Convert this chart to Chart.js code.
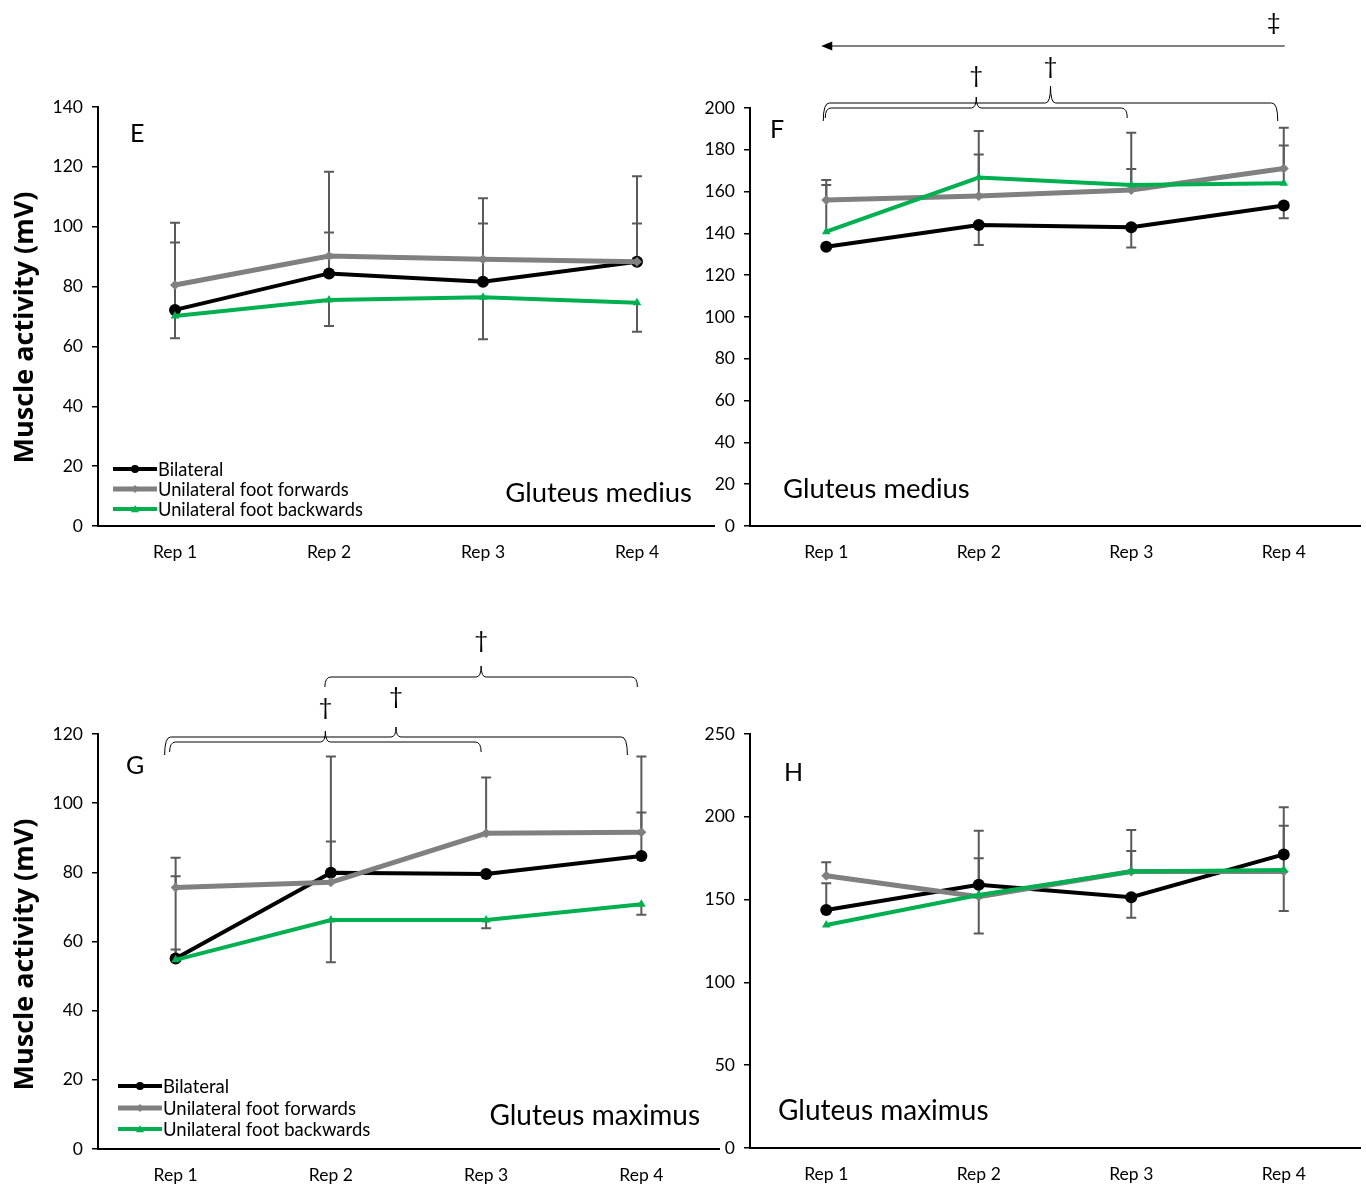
<!DOCTYPE html>
<html>
<head>
<meta charset="utf-8">
<script src="https://cdn.jsdelivr.net/npm/chart.js@4.4.1/dist/chart.umd.min.js"></script>
<style>
    html, body { margin: 0; padding: 0; background: #fff; }
    #wrap { position: relative; width: 1366px; height: 1184px; overflow: hidden; }
    #wrap canvas { position: absolute; left: 0; top: 0; }
</style>
</head>
<body>
<div id="wrap">
    <canvas id="chartE" width="1366" height="1184"></canvas>
    <canvas id="chartF" width="1366" height="1184"></canvas>
    <canvas id="chartG" width="1366" height="1184"></canvas>
    <canvas id="chartH" width="1366" height="1184"></canvas>
</div>
<script>
// ==================== DATOS ====================
const repLabels = ['Rep 1', 'Rep 2', 'Rep 3', 'Rep 4'];
const seriesNames = ['Bilateral', 'Unilateral foot forwards', 'Unilateral foot backwards'];
const yTitle = 'Muscle activity (mV)';

// E - Gluteus medius
const eBilateral = [72.2, 84.4, 81.6, 88.3];
const eForwards  = [80.5, 90.2, 89.1, 88.3];
const eBackwards = [70.2, 75.5, 76.4, 74.6];
const eBilateralUp   = [22.5, 13.7, 19.5, 12.8];
const eBilateralDown = [0, 0, 0, 0];
const eForwardsUp    = [20.8, 28.2, 20.4, 28.6];
const eForwardsDown  = [0, 0, 0, 0];
const eBackwardsUp   = [0, 0, 0, 0];
const eBackwardsDown = [7.5, 8.7, 14.0, 9.7];

// F - Gluteus medius
const fBilateral = [133.6, 144.0, 142.9, 153.3];
const fForwards  = [156.0, 157.9, 160.8, 171.1];
const fBackwards = [140.8, 166.7, 163.2, 164.0];
const fBilateralUp   = [0, 0, 0, 0];
const fBilateralDown = [0, 9.6, 9.6, 6.1];
const fForwardsUp    = [9.5, 31.1, 27.4, 19.5];
const fForwardsDown  = [0, 0, 0, 0];
const fBackwardsUp   = [22.4, 11.1, 7.6, 18.0];
const fBackwardsDown = [0, 0, 0, 0];

// G - Gluteus maximus
const gBilateral = [55.1, 79.9, 79.5, 84.7];
const gForwards  = [75.6, 77.1, 91.3, 91.6];
const gBackwards = [54.7, 66.2, 66.2, 70.8];
const gBilateralUp   = [23.8, 9.0, 0, 12.6];
const gBilateralDown = [0, 0, 0, 0];
const gForwardsUp    = [8.6, 36.4, 16.1, 21.9];
const gForwardsDown  = [0, 0, 0, 0];
const gBackwardsUp   = [3.0, 0, 0, 0];
const gBackwardsDown = [0, 12.2, 2.4, 3.1];

// H - Gluteus maximus
const hBilateral = [143.7, 159.0, 151.4, 177.3];
const hForwards  = [164.4, 151.8, 166.9, 166.9];
const hBackwards = [134.7, 152.8, 166.9, 167.9];
const hBilateralUp   = [16.1, 15.9, 0, 28.4];
const hBilateralDown = [0, 0, 12.3, 0];
const hForwardsUp    = [8.1, 39.8, 25.1, 27.7];
const hForwardsDown  = [0, 0, 0, 0];
const hBackwardsUp   = [0, 0, 12.4, 0];
const hBackwardsDown = [0, 23.2, 0, 24.8];

// ==================== ESTILO ====================
const FONT = 'Lato, "Liberation Sans", sans-serif';
const BOLD_FONT = '"Open Sans", "DejaVu Sans", sans-serif';
const W = 1366, H = 1184;
const seriesStyle = [
    { color: '#000000', width: 4, point: 'circle', radius: 6, order: 3 },
    { color: '#808080', width: 5, point: 'rectRot', radius: 5, order: 2 },
    { color: '#00b050', width: 4, point: 'triangle', radius: 5, order: 1 }
];
const ERR_COLOR = '#5a5a5a';

// ==================== PLUGIN ====================
function drawBrace(ctx, x1, x2, yLine, yTip, yEnd) {
    const xm = (x1 + x2) / 2;
    ctx.beginPath();
    ctx.moveTo(x1, yEnd);
    ctx.quadraticCurveTo(x1, yLine, x1 + 6, yLine);
    ctx.lineTo(xm - 5, yLine);
    ctx.quadraticCurveTo(xm, yLine, xm, yTip);
    ctx.quadraticCurveTo(xm, yLine, xm + 5, yLine);
    ctx.lineTo(x2 - 6, yLine);
    ctx.quadraticCurveTo(x2, yLine, x2, yEnd);
    ctx.stroke();
}

function drawMarker(ctx, style, x, y, r) {
    ctx.fillStyle = style.color;
    ctx.beginPath();
    if (style.point === 'circle') {
        ctx.arc(x, y, r, 0, Math.PI * 2);
    } else if (style.point === 'rectRot') {
        ctx.moveTo(x, y - r); ctx.lineTo(x + r, y); ctx.lineTo(x, y + r); ctx.lineTo(x - r, y);
    } else {
        ctx.moveTo(x, y - r); ctx.lineTo(x + r, y + r * 0.8); ctx.lineTo(x - r, y + r * 0.8);
    }
    ctx.closePath();
    ctx.fill();
}

const panelDecor = {
    id: 'panelDecor',
    beforeDatasetsDraw(chart) {
        const ctx = chart.ctx, ys = chart.scales.y;
        ctx.save();
        ctx.strokeStyle = ERR_COLOR;
        ctx.lineWidth = 2;
        chart.data.datasets.forEach((ds, i) => {
            const meta = chart.getDatasetMeta(i);
            ds.data.forEach((v, j) => {
                const x = meta.data[j].x;
                [[ds.errUp, 1], [ds.errDown, -1]].forEach(([arr, sign]) => {
                    if (!arr || !arr[j]) return;
                    const y0 = ys.getPixelForValue(v);
                    const y1 = ys.getPixelForValue(v + sign * arr[j]);
                    ctx.beginPath();
                    ctx.moveTo(x, y0); ctx.lineTo(x, y1);
                    ctx.moveTo(x - 5, y1); ctx.lineTo(x + 5, y1);
                    ctx.stroke();
                });
            });
        });
        ctx.restore();
    },
    afterDraw(chart, args, opts) {
        const ctx = chart.ctx, a = chart.chartArea, xs = chart.scales.x;
        ctx.save();
        ctx.fillStyle = '#000';
        ctx.textBaseline = 'middle';

        // letra del panel
        ctx.font = '25px ' + FONT;
        ctx.textAlign = 'left';
        ctx.fillText(opts.letter.text, a.left + opts.letter.dx, a.top + opts.letter.dy);

        // nombre del músculo
        ctx.font = opts.muscle.size + 'px ' + FONT;
        ctx.textAlign = opts.muscle.align;
        const mx = opts.muscle.align === 'right' ? a.right + opts.muscle.dx : a.left + opts.muscle.dx;
        ctx.fillText(opts.muscle.text, mx, a.bottom + opts.muscle.dy);

        // título del eje Y
        if (opts.yTitle) {
            ctx.save();
            ctx.font = 'bold 27px ' + BOLD_FONT;
            ctx.textAlign = 'center';
            ctx.translate(a.left + opts.yTitle.dx, (a.top + a.bottom) / 2 + opts.yTitle.dy);
            ctx.rotate(-Math.PI / 2);
            ctx.fillText(yTitle, 0, 0);
            ctx.restore();
        }

        // leyenda
        if (opts.legend) {
            const lg = opts.legend;
            ctx.font = lg.size + 'px ' + FONT;
            ctx.textAlign = 'left';
            seriesNames.forEach((name, i) => {
                const st = seriesStyle[i];
                const ly = a.bottom + lg.rows[i];
                const lx = a.left + lg.dx;
                ctx.strokeStyle = st.color;
                ctx.lineWidth = st.width;
                ctx.beginPath();
                ctx.moveTo(lx, ly); ctx.lineTo(lx + 44, ly);
                ctx.stroke();
                drawMarker(ctx, st, lx + 22, ly, 4);
                ctx.fillStyle = '#000';
                ctx.fillText(name, lx + 45, ly + 1);
            });
        }

        // llaves de significancia
        ctx.strokeStyle = '#000';
        ctx.lineWidth = 1;
        ctx.font = '24px ' + FONT;
        ctx.textAlign = 'center';
        (opts.braces || []).forEach(b => {
            const x1 = xs.getPixelForValue(b.from) + b.fromDx;
            const x2 = xs.getPixelForValue(b.to) + b.toDx;
            drawBrace(ctx, x1, x2, a.top + b.line, a.top + b.tip, a.top + b.end);
            ctx.fillText(b.mark, (x1 + x2) / 2, a.top + b.markY);
        });

        // flecha
        if (opts.arrow) {
            const ar = opts.arrow;
            const x1 = xs.getPixelForValue(ar.from) + ar.fromDx;
            const x2 = xs.getPixelForValue(ar.to) + ar.toDx;
            const y = a.top + ar.y;
            ctx.strokeStyle = '#555';
            ctx.lineWidth = 1.5;
            ctx.beginPath();
            ctx.moveTo(x1, y); ctx.lineTo(x2 + 8, y);
            ctx.stroke();
            ctx.fillStyle = '#000';
            ctx.beginPath();
            ctx.moveTo(x2, y); ctx.lineTo(x2 + 11, y - 4.5); ctx.lineTo(x2 + 11, y + 4.5);
            ctx.closePath();
            ctx.fill();
            ctx.fillText(ar.mark, xs.getPixelForValue(ar.from) + ar.markDx, a.top + ar.markY);
        }
        ctx.restore();
    }
};

// ==================== PANELES ====================
function buildDatasets(values, ups, downs) {
    return values.map((vals, i) => ({
        label: seriesNames[i],
        data: vals,
        errUp: ups[i],
        errDown: downs[i],
        borderColor: seriesStyle[i].color,
        backgroundColor: seriesStyle[i].color,
        borderWidth: seriesStyle[i].width,
        pointStyle: seriesStyle[i].point,
        pointRadius: seriesStyle[i].radius,
        pointBorderWidth: 0,
        order: seriesStyle[i].order,
        tension: 0
    }));
}

function makePanel(id, p) {
    const yw = p.yw, xh = 35;
    new Chart(document.getElementById(id), {
        type: 'line',
        data: { labels: repLabels, datasets: buildDatasets(p.values, p.ups, p.downs) },
        options: {
            responsive: false,
            animation: false,
            devicePixelRatio: 1,
            layout: {
                padding: {
                    left: p.area.left - yw,
                    top: p.area.top,
                    right: W - p.area.right,
                    bottom: H - p.area.bottom - xh
                }
            },
            plugins: {
                legend: { display: false },
                tooltip: { enabled: false },
                panelDecor: p.decor
            },
            scales: {
                x: {
                    offset: true,
                    grid: { display: false, drawTicks: false },
                    border: { display: true, color: '#000', width: 2 },
                    ticks: { color: '#000', font: { family: FONT, size: 17.5 }, padding: 16 },
                    afterFit(s) { s.height = xh; }
                },
                y: {
                    min: 0,
                    max: p.yMax,
                    ticks: { stepSize: p.yStep, color: '#000', font: { family: FONT, size: 17.5 }, padding: 9 },
                    grid: { drawOnChartArea: false, drawTicks: true, tickLength: 6, color: '#000', lineWidth: 1.5 },
                    border: { display: true, color: '#000', width: 2 },
                    afterFit(s) { s.width = yw; }
                }
            }
        },
        plugins: [panelDecor]
    });
}

makePanel('chartE', {
    area: { left: 98, top: 107, right: 714, bottom: 526 },
    yw: 98, yMax: 140, yStep: 20,
    values: [eBilateral, eForwards, eBackwards],
    ups: [eBilateralUp, eForwardsUp, eBackwardsUp],
    downs: [eBilateralDown, eForwardsDown, eBackwardsDown],
    decor: {
        letter: { text: 'E', dx: 32, dy: 27 },
        muscle: { text: 'Gluteus medius', size: 27.5, align: 'right', dx: -22, dy: -33 },
        yTitle: { dx: -73, dy: 11 },
        legend: { size: 18.3, dx: 15, rows: [-57, -37, -17] }
    }
});

makePanel('chartF', {
    area: { left: 750, top: 108, right: 1366, bottom: 526 },
    yw: 60, yMax: 200, yStep: 20,
    values: [fBilateral, fForwards, fBackwards],
    ups: [fBilateralUp, fForwardsUp, fBackwardsUp],
    downs: [fBilateralDown, fForwardsDown, fBackwardsDown],
    decor: {
        letter: { text: 'F', dx: 20, dy: 22 },
        muscle: { text: 'Gluteus medius', size: 27.5, align: 'left', dx: 33, dy: -37 },
        braces: [
            { from: 0, fromDx: -3, to: 3, toDx: -6, line: -5, tip: -22, end: 13, mark: '†', markY: -42 },
            { from: 0, fromDx: -1, to: 2, toDx: -4, line: 0, tip: -11, end: 10, mark: '†', markY: -33 }
        ],
        arrow: { from: 3, fromDx: 1, to: 0, toDx: -5, y: -62, mark: '‡', markDx: -10, markY: -86 }
    }
});

makePanel('chartG', {
    area: { left: 98, top: 734, right: 719, bottom: 1149 },
    yw: 98, yMax: 120, yStep: 20,
    values: [gBilateral, gForwards, gBackwards],
    ups: [gBilateralUp, gForwardsUp, gBackwardsUp],
    downs: [gBilateralDown, gForwardsDown, gBackwardsDown],
    decor: {
        letter: { text: 'G', dx: 28, dy: 32 },
        muscle: { text: 'Gluteus maximus', size: 28, align: 'right', dx: -19, dy: -33 },
        yTitle: { dx: -73, dy: 13 },
        legend: { size: 18.5, dx: 20, rows: [-63, -41, -20] },
        braces: [
            { from: 1, fromDx: -6, to: 3, toDx: -4, line: -57, tip: -68, end: -47, mark: '†', markY: -94 },
            { from: 0, fromDx: -11, to: 3, toDx: -14, line: 3, tip: -7, end: 21, mark: '†', markY: -38 },
            { from: 0, fromDx: -6, to: 2, toDx: -5, line: 8, tip: -3, end: 18, mark: '†', markY: -27 }
        ]
    }
});

makePanel('chartH', {
    area: { left: 750, top: 734, right: 1366, bottom: 1148 },
    yw: 60, yMax: 250, yStep: 50,
    values: [hBilateral, hForwards, hBackwards],
    ups: [hBilateralUp, hForwardsUp, hBackwardsUp],
    downs: [hBilateralDown, hForwardsDown, hBackwardsDown],
    decor: {
        letter: { text: 'H', dx: 34, dy: 39 },
        muscle: { text: 'Gluteus maximus', size: 28, align: 'left', dx: 28, dy: -37 }
    }
});
</script>
</body>
</html>
